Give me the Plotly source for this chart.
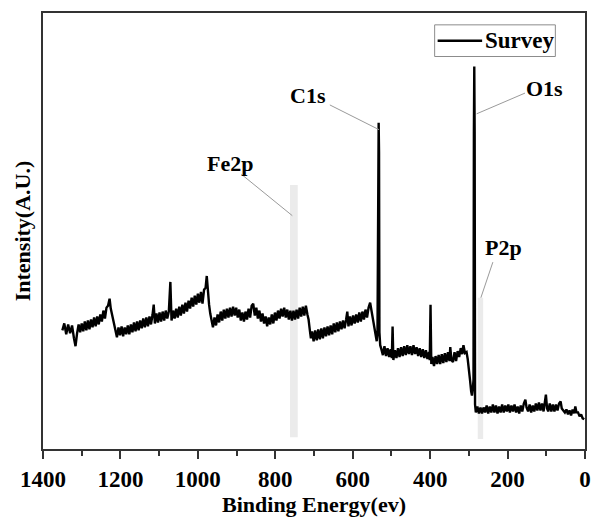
import plotly.graph_objects as go

# ---- data (binding energy in eV, intensity in arbitrary units) ----
energy = [
    1350, 1345, 1340, 1335, 1330, 1325, 1320, 1316, 1312, 1308, 1304, 1300, 1296, 1292, 1288, 1284,
    1280, 1276, 1272, 1268, 1264, 1260, 1256, 1252, 1248, 1244, 1240, 1236, 1232, 1228, 1225, 1221,
    1217, 1213, 1209, 1205, 1201, 1197, 1193, 1189, 1185, 1181, 1177, 1173, 1169, 1165, 1161, 1157,
    1153, 1149, 1145, 1141, 1137, 1133, 1129, 1125, 1121, 1117, 1114, 1111, 1107, 1103, 1099, 1095,
    1091, 1087, 1083, 1079, 1075, 1071, 1068, 1064, 1060, 1056, 1052, 1048, 1044, 1040, 1036, 1032,
    1028, 1024, 1020, 1016, 1012, 1008, 1004, 1000, 996, 992, 988, 984, 980, 977, 974, 971,
    968, 965, 961, 957, 953, 949, 945, 941, 937, 933, 929, 925, 921, 917, 913, 909,
    905, 901, 897, 893, 889, 885, 881, 877, 873, 869, 865, 861, 857, 853, 849, 845,
    841, 837, 833, 829, 825, 821, 817, 813, 809, 805, 801, 797, 793, 789, 785, 781,
    777, 773, 769, 765, 761, 757, 753, 749, 745, 741, 737, 733, 729, 725, 721, 717,
    714, 711, 708, 705, 701, 697, 693, 689, 685, 681, 677, 673, 669, 665, 661, 657,
    653, 649, 645, 641, 637, 633, 629, 625, 621, 617, 614, 611, 607, 603, 599, 595,
    591, 587, 583, 579, 575, 571, 567, 563, 559, 555, 551, 547, 544, 541, 538, 536,
    534, 533, 532, 531, 529, 526, 522, 518, 514, 510, 506, 502, 499, 497, 495, 491,
    487, 483, 479, 475, 471, 467, 463, 459, 455, 451, 447, 443, 439, 435, 431, 427,
    423, 419, 415, 411, 407, 403, 401, 399, 397, 394, 390, 386, 382, 378, 374, 370,
    366, 362, 358, 354, 350, 348, 345, 341, 337, 333, 329, 325, 321, 317, 314, 310,
    306, 303, 300, 297, 294, 292, 290, 288, 287, 286, 285, 284, 282, 278, 274, 270,
    266, 262, 258, 254, 250, 246, 242, 238, 234, 230, 226, 222, 218, 214, 210, 206,
    202, 198, 194, 190, 186, 182, 178, 174, 170, 166, 162, 158, 154, 151, 147, 143,
    139, 135, 131, 127, 123, 119, 115, 111, 107, 104, 101, 98, 95, 91, 87, 83,
    79, 75, 71, 67, 63, 60, 56, 52, 48, 44, 40, 36, 32, 28, 25, 22,
    18, 14, 10, 6, 2,
]
intensity = [
    120, 127, 116, 126, 117, 125, 112, 104, 117, 126, 118, 127, 119, 129, 120, 130,
    121, 131, 123, 133, 124, 134, 126, 136, 129, 140, 132, 143, 145, 152, 142, 135,
    126, 118, 113, 123, 115, 124, 114, 123, 116, 125, 116, 126, 118, 128, 119, 129,
    120, 130, 122, 132, 123, 133, 124, 134, 126, 136, 146, 127, 137, 128, 138, 129,
    139, 130, 140, 132, 139, 169, 130, 140, 132, 142, 133, 144, 135, 146, 137, 148,
    139, 150, 142, 153, 144, 155, 146, 157, 148, 159, 147, 161, 163, 175, 157, 146,
    137, 129, 123, 133, 125, 136, 128, 139, 130, 141, 132, 142, 133, 143, 134, 144,
    135, 143, 133, 141, 130, 138, 129, 139, 131, 142, 133, 145, 147, 135, 143, 132,
    140, 129, 137, 127, 134, 124, 133, 126, 136, 127, 138, 130, 140, 132, 142, 134,
    143, 133, 141, 131, 140, 130, 140, 131, 141, 132, 143, 134, 144, 135, 145, 136,
    131, 121, 112, 119, 109, 120, 110, 121, 111, 122, 112, 123, 114, 124, 115, 125,
    116, 127, 118, 128, 119, 129, 121, 130, 122, 131, 139, 124, 134, 125, 135, 127,
    136, 128, 138, 129, 139, 131, 141, 133, 143, 148, 139, 131, 121, 113, 109, 118,
    277, 330, 300, 118, 105, 101, 95, 104, 94, 102, 93, 101, 92, 124, 90, 100,
    92, 102, 93, 103, 94, 104, 95, 105, 96, 104, 95, 105, 96, 103, 94, 102,
    93, 101, 92, 100, 91, 98, 90, 146, 86, 93, 84, 94, 86, 95, 86, 96,
    87, 97, 88, 98, 89, 103, 90, 88, 98, 89, 99, 93, 102, 96, 105, 97,
    98, 91, 83, 70, 58, 54, 60, 70, 321, 387, 321, 45, 37, 43, 36, 42,
    36, 42, 37, 44, 36, 43, 37, 45, 37, 44, 36, 43, 37, 45, 37, 44,
    38, 45, 37, 44, 38, 45, 37, 43, 36, 44, 38, 46, 50, 42, 38, 45,
    37, 44, 38, 46, 39, 47, 39, 46, 38, 46, 55, 41, 38, 46, 38, 45,
    38, 45, 39, 46, 48, 41, 39, 37, 40, 35, 39, 34, 40, 36, 43, 37,
    37, 33, 35, 31, 30,
]

series_name = "Survey"
x_range = [1400, 0]
y_range = [0, 441]
x_tickvals = [1400, 1200, 1000, 800, 600, 400, 200, 0]

# peak labels: text, label position (eV, a.u.), leader line start/end
peak_labels = ["C1s", "O1s", "Fe2p", "P2p"]
label_x = [716, 105, 917, 210]
label_y = [358, 365, 289, 204]
leader_x0 = [659, 155, 888, 238]
leader_y0 = [348, 360, 278, 189]
leader_x1 = [532, 280, 756, 269]
leader_y1 = [323, 339, 236, 153]

# highlighted regions (eV ranges and heights)
band_x0 = [742, 263]
band_x1 = [762, 277]
band_y0 = [12, 10]
band_y1 = [267, 153]

FONT = "Liberation Serif, Times New Roman, serif"

fig = go.Figure()
fig.add_trace(go.Scatter(
    x=energy, y=intensity, mode="lines", name=series_name,
    line=dict(color="black", width=2.4), showlegend=False,
))

for x0, x1, y0, y1 in zip(band_x0, band_x1, band_y0, band_y1):
    fig.add_shape(type="rect", xref="x", yref="y", x0=x0, x1=x1, y0=y0, y1=y1,
                  fillcolor="#ebebeb", line=dict(width=0), layer="below")

for x0, y0, x1, y1 in zip(leader_x0, leader_y0, leader_x1, leader_y1):
    fig.add_shape(type="line", xref="x", yref="y", x0=x0, y0=y0, x1=x1, y1=y1,
                  line=dict(color="#9a9a9a", width=1), layer="above")

for t, lx, ly in zip(peak_labels, label_x, label_y):
    fig.add_annotation(x=lx, y=ly, xref="x", yref="y", text=t, showarrow=False,
                       xanchor="center", yanchor="middle",
                       font=dict(family=FONT, size=22, color="black", weight="bold"))

# legend box (drawn in paper coordinates to match the original's proportions)
fig.add_shape(type="rect", xref="paper", yref="paper", x0=0.7226, x1=0.9453, y0=0.9002, y1=0.9728,
              line=dict(color="#8c8c8c", width=1), fillcolor="white", layer="above")
fig.add_shape(type="line", xref="paper", yref="paper", x0=0.7281, x1=0.8102, y0=0.9365, y1=0.9365,
              line=dict(color="black", width=2.4), layer="above")
fig.add_annotation(x=0.812, y=0.9365, xref="paper", yref="paper", text=series_name, showarrow=False,
                   xanchor="left", yanchor="middle",
                   font=dict(family=FONT, size=23, color="black", weight="bold"))

fig.update_layout(
    width=600, height=522,
    margin=dict(l=43, r=9, t=13, b=68),
    paper_bgcolor="white", plot_bgcolor="white",
    font=dict(family=FONT, size=22, color="black", weight="bold"),
    showlegend=False,
    xaxis=dict(
        range=x_range, tickvals=x_tickvals, ticks="outside", ticklen=8, tickwidth=2,
        tickcolor="#333333", showline=True, linecolor="#333333", linewidth=2, mirror=True,
        showgrid=False, zeroline=False,
        minor=dict(dtick=100, ticks="outside", ticklen=5, tickwidth=2, tickcolor="#333333"),
        tickfont=dict(family=FONT, size=23, color="black", weight="bold"),
        title=dict(text="Binding Energy(ev)", standoff=6,
                   font=dict(family=FONT, size=22, color="black", weight="bold")),
    ),
    yaxis=dict(
        range=y_range, showticklabels=False, ticks="", showline=True, linecolor="#333333",
        linewidth=2, mirror=True, showgrid=False, zeroline=False,
        title=dict(text="Intensity(A.U.)", standoff=4,
                   font=dict(family=FONT, size=22, color="black", weight="bold")),
    ),
)

fig.write_html("out.html")
